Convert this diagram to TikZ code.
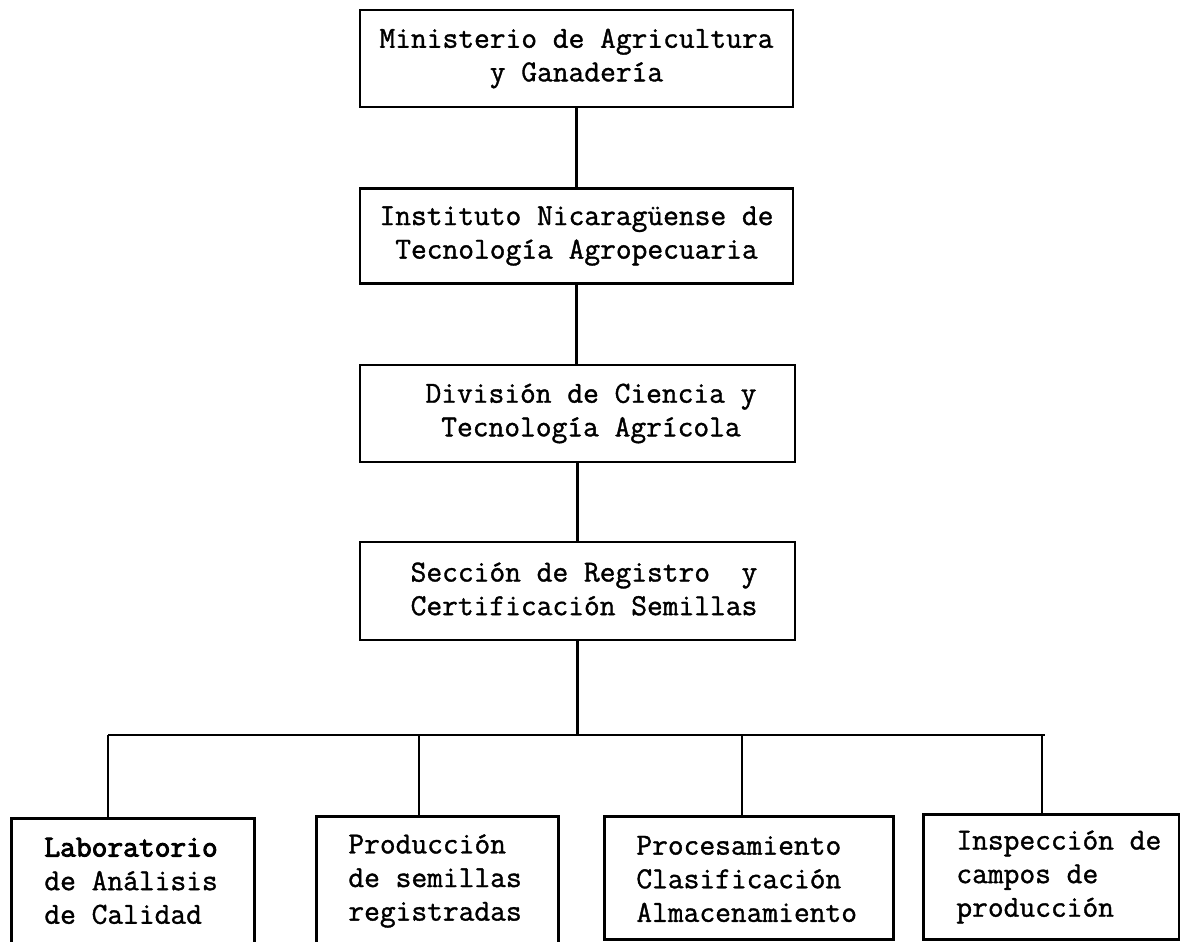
\documentclass[tikz,border=0pt]{standalone}
\usepackage{fontspec}
\newfontfamily\tw[FakeBold=1.2]{Latin Modern Mono}
\newfontfamily\twb[FakeBold=3]{Latin Modern Mono}
\begin{document}
\begin{tikzpicture}[x=0.5pt,y=-0.5pt,line width=1.4pt,
  tfont/.style={font=\tw\fontsize{15.3}{16.8}\selectfont},
  topbox/.style={draw,minimum width=216.5pt,minimum height=48.5pt,inner sep=0pt,align=center,tfont},
  txt/.style={inner sep=0pt,align=center,tfont},
  ltxt/.style={inner sep=0pt,align=left,anchor=west,tfont},
  lowbox/.style={draw,anchor=north west,inner sep=0pt}]
\useasboundingbox (0,0) rectangle (1180,942);
\clip (0,0) rectangle (1180,942);
% top chain
\node[topbox] (m1) at (576.5,58.5) {Ministerio de Agricultura\\y Ganadería};
\node[topbox,minimum height=47.5pt] (m2) at (576.5,236) {Instituto Nicaragüense de\\Tecnología Agropecuaria};
\node[topbox,minimum width=217.5pt] (m3) at (577.5,413.5) {};
\node[txt] (t3) at (591,413.5) {División de Ciencia y\\Tecnología Agrícola};
\node[topbox,minimum width=217.5pt,minimum height=49pt] (m4) at (577.5,591) {};
\node[txt] (t4) at (584,589) {Sección de Registro\ \ y\\Certificación Semillas};
% bottom boxes
\node[lowbox,minimum width=121.5pt,minimum height=72pt] (la) at (10,817) {};
\node[lowbox,minimum width=121pt,minimum height=73pt] (lb) at (315,815) {};
\node[lowbox,minimum width=144.5pt,minimum height=61.5pt] (lc) at (603,815) {};
\node[lowbox,minimum width=128pt,minimum height=62.5pt] (ld) at (922,813) {};
\node[ltxt] (ta) at (43,881) {{\twb Laboratorio}\\de Análisis\\de Calidad};
\node[ltxt] (tb) at (347,881) {Producción\\de semillas\\registradas};
\node[ltxt] (tc) at (635,879) {Procesamiento\\Clasificación\\Almacenamiento};
\node[ltxt] (td) at (955,877) {Inspección de\\campos de\\producción};
% connectors
\draw (m1.south) -- (m1.south |- m2.north);
\draw (m2.south) -- (m2.south |- m3.north);
\draw (m3.south) -- (m3.south |- m4.north);
\coordinate (hl) at (108,735);
\coordinate (hr) at (1045,735);
\coordinate (db) at (419,735);
\coordinate (dc) at (742,735);
\coordinate (dd) at (1042,735);
\draw (m4.south) -- (m4.south |- hl);
\draw (hl) -- (hr);
\draw (hl) -- (hl |- la.north);
\draw (db) -- (db |- lb.north);
\draw (dc) -- (dc |- lc.north);
\draw (dd) -- (dd |- ld.north);
\end{tikzpicture}
\end{document}
